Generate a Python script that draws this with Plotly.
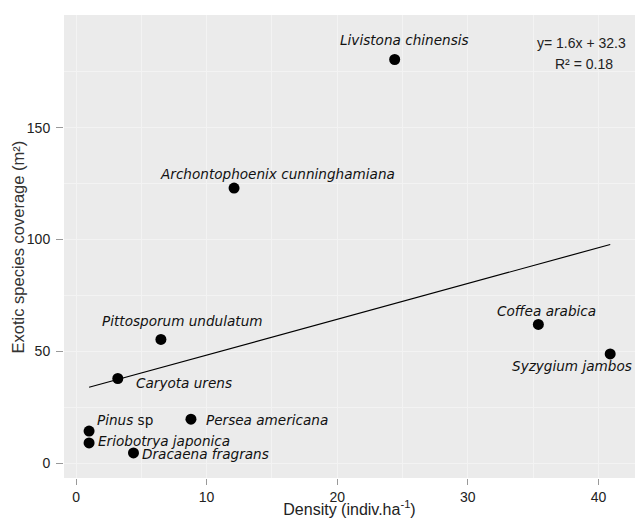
import plotly.graph_objects as go

species = ["Livistona chinensis", "Archontophoenix cunninghamiana", "Pittosporum undulatum",
           "Caryota urens", "Coffea arabica", "Syzygium jambos", "Pinus sp",
           "Eriobotrya japonica", "Persea americana", "Dracaena fragrans"]
density = [24.4, 12.1, 6.5, 3.2, 35.4, 40.9, 1.0, 1.0, 8.8, 4.4]
coverage = [180.5, 123.0, 55.3, 37.8, 62.0, 48.8, 14.3, 9.0, 19.6, 4.5]
slope, intercept, r2 = 1.6, 32.3, 0.18

labels_html = ["<i>Livistona chinensis</i>", "<i>Archontophoenix cunninghamiana</i>",
               "<i>Pittosporum undulatum</i>", "<i>Caryota urens</i>", "<i>Coffea arabica</i>",
               "<i>Syzygium jambos</i>", "<i>Pinus</i> sp", "<i>Eriobotrya japonica</i>",
               "<i>Persea americana</i>", "<i>Dracaena fragrans</i>"]
# label offsets (pixels) and anchors
offsets = [(10, 19, "center"), (43, 14, "center"), (22, 18, "center"), (16, -4, "left"),
           (8, 13, "center"), (-38, -12, "center"), (6, 11, "left"), (7, 2, "left"),
           (13, -1, "left"), (7, -1, "left")]

LAB_FONT = "DejaVu Sans"
xmin, xmax = min(density), max(density)
fig = go.Figure()
fig.add_trace(go.Scatter(x=[xmin, xmax], y=[slope * xmin + intercept, slope * xmax + intercept],
                         mode="lines", line=dict(color="black", width=1.2), hoverinfo="skip"))
fig.add_trace(go.Scatter(x=density, y=coverage, mode="markers",
                         marker=dict(color="black", size=11), hovertext=species))

for x, y, lab, (dx, dy, anc) in zip(density, coverage, labels_html, offsets):
    fig.add_annotation(x=x, y=y, text=lab, showarrow=False, xanchor=anc, yanchor="middle",
                       xshift=dx, yshift=dy,
                       font=dict(family=LAB_FONT, size=13.6, color="#111"))

fig.add_annotation(xref="paper", yref="paper", x=0.988, y=0.94, xanchor="right", yanchor="middle",
                   text=f"y= {slope}x + {intercept}", showarrow=False,
                   font=dict(family="Liberation Sans", size=14, color="#222"))
fig.add_annotation(xref="paper", yref="paper", x=0.910, y=0.895, xanchor="center", yanchor="middle",
                   text=f"R² = {r2}", showarrow=False,
                   font=dict(family="Liberation Sans", size=14, color="#222"))
# y-axis title
fig.add_annotation(xref="paper", yref="paper", x=-0.0806, y=0.5, xanchor="center", yanchor="middle",
                   textangle=-90, text="Exotic species coverage (m²)", showarrow=False,
                   font=dict(family="Liberation Sans", size=16.5, color="#333"))

fig.update_layout(
    width=635, height=518, showlegend=False,
    margin=dict(l=64, r=0, t=15, b=40),
    paper_bgcolor="white", plot_bgcolor="#ebebeb",
    font=dict(family="Liberation Sans", color="#222"),
    xaxis=dict(range=[-0.92, 42.8], tickvals=[0, 10, 20, 30, 40], showgrid=True,
               gridcolor="#f3f3f3", gridwidth=1, zeroline=False, automargin=False,
               minor=dict(dtick=5, showgrid=True, gridcolor="#f3f3f3"),
               ticks="outside", ticklen=6, tickcolor="#999", tickfont=dict(size=14, color="#222"),
               title=dict(text="Density (indiv.ha<sup>-1</sup>)",
                          font=dict(family="Liberation Sans", size=16, color="#222"), standoff=2)),
    yaxis=dict(range=[-6.7, 200.4], tickvals=[0, 50, 100, 150], showgrid=True,
               gridcolor="#f3f3f3", gridwidth=1, zeroline=False, automargin=False,
               minor=dict(dtick=25, showgrid=True, gridcolor="#f3f3f3"),
               ticks="outside", ticklen=7, tickcolor="#999", ticklabelstandoff=3,
               tickfont=dict(size=14, color="#222")),
)
fig.write_html("out.html", config={"displayModeBar": False},
               post_script="document.body.style.margin='0';")
